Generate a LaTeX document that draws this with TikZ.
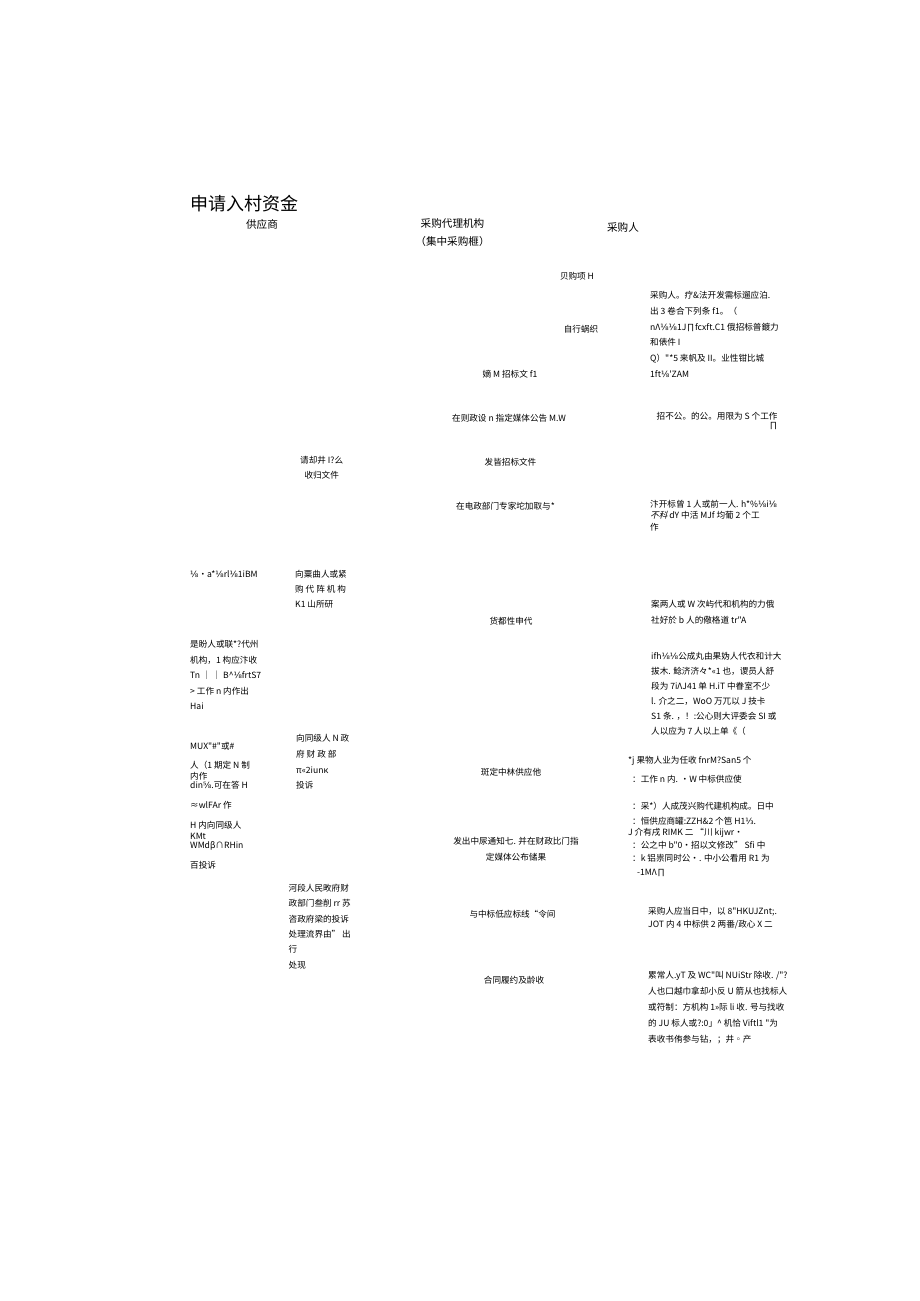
\documentclass[tikz,border=0pt]{standalone}
\usepackage{fontspec}
\setmainfont{Noto Sans CJK SC}[Ligatures=TeXOff]
\newfontfamily\slantcjk[FakeSlant=0.25]{Noto Sans CJK SC}
\newfontfamily\dvsans{DejaVu Sans}
\newcommand{\fs}{\fontsize{8.6}{15.6}\selectfont}
\newcommand{\fsp}[1]{\fontsize{8.6}{#1}\selectfont}
\newcommand{\fr}[1]{{\dvsans #1}}

\begin{document}
\begin{tikzpicture}[x=1pt,y=-1pt,
  txt/.style={inner sep=0pt,anchor=west,font=\fs},
  blk/.style={inner sep=0pt,anchor=west,align=left,font=\fsp{#1}},
  mid/.style={inner sep=0pt,font=\fs},
  hdr/.style={inner sep=0pt,font=\fontsize{10.6}{18}\selectfont}]
  \useasboundingbox (0,0) rectangle (920,1301);
  \node[inner sep=0pt,anchor=west,font=\fontsize{18}{20}\selectfont] (title) at (190,203.5) {申请入村资金};
  \node[hdr] (gys) at (262.0,224.5) {供应商};
  \node[hdr,align=center] (dljg) at (452.5,233.0) {采购代理机构\\（集中采购榧）};
  \node[hdr] (cgr) at (623.0,227.0) {采购人};
  \node[mid] (m1)  at (577.0,276.0) {贝购项 H};
  \node[mid] (m2)  at (581.0,329.0) {自行蜗织};
  \node[mid] (m3)  at (510.0,374.0) {嫡 M 招标文 f1};
  \node[mid] (m4)  at (509.0,418.0) {在则政设 n 指定媒体公告 M.W};
  \node[mid] (m5)  at (510.5,462.5) {发皆招标文件};
  \node[mid] (m6)  at (505.5,506.0) {在电政部门专家坨加取与*};
  \node[mid] (m7)  at (511.0,621.0) {货都性申代};
  \node[mid] (m8)  at (511.0,772.0) {斑定中林供应他};
  \node[mid,align=center,font=\fsp{16}] (m9) at (516.0,849.0) {发出中尿通知七. 并在财政比门指\\定媒体公布储果};
  \node[mid] (m10) at (512.5,914.0) {与中标低应标线“令间};
  \node[mid] (m11) at (514.0,980.0) {合同履约及龄收};
  \node[blk=15.8] (r1) at (650,334.5) {采购人。疗\&法开发需标遛应泊.\\出 3 卷合下列条 f1。（\\nΛ\fr{⅛⅛}1J∏fcxft.C1 俄招标普鍍力\\和俵件 I\\Q）"*5 来帆及 II。业性钳比城\\1ft\fr{⅛}'ZAM};
  \node[txt] (r2)  at (656.5,416.5) {招不公。的公。用限为 S 个工作};
  \node[txt] (r2b) at (769.0,426.0) {∏};
  \node[blk=11.5] (r3) at (650,515.5) {汴开标曾 1 人或前一人. h*\%\fr{⅛}i\fr{⅛}\\{\slantcjk 不科} dY 中活 MJf 均葡 2 个工\\作};
  \node[blk=15.6] (r4) at (651,612.0) {案两人或 W 次屿代和机构的力俄\\社好於 b 人的儆格道 tr"A};
  \node[blk=15.1] (r5) at (651,694.0) {ifh\fr{⅛⅛}公成丸由果妫人代衣和计大\\拔木. 鲶济济々*«1 也，谡员人舒\\段为 7iΛJ41 单 H.iT 中眷室不少\\l. 介之二，WoO 万兀以 J 技卡\\S1 条. ，！:公心则大评委会 SI 或\\人以应为 7 人以上单《（};
  \node[txt] (r6a) at (628,761.0) {*j 果物人业为任收 fnrM?San5 个};
  \node[txt] (r6b) at (632,779.0) {：工作 n 内. ·W 中标供应使};
  \node[txt] (r7a) at (632,806.5) {：采*）人成茂兴购代建机构成。日中};
  \node[txt] (r7b) at (632,821.0) {：恒供应商罐:ZZH\&2 个笆 H1\fr{⅓}.};
  \node[txt] (r7c) at (628,832.5) {J 介有戌 RIMK 二 “川 kijwr·};
  \node[txt] (r7d) at (632,845.0) {：公之中 b"0·招以文修改” Sfi 中};
  \node[txt] (r7e) at (632,858.0) {：k 铝祟同时公•. 中小公看用 R1 为};
  \node[txt] (r7f) at (637,873.0) {-1MΛ∏};
  \node[blk=12.5] (r8) at (648,918.0) {采购人应当日中，以 8"HKUJZnt;.\\JOT 内 4 中标供 2 两番/政心 X 二};
  \node[blk=16] (r9) at (648,1008.0) {累常人.yT 及 WC"叫 NUiStr 除收. /"?\\人也口越巾拿却小反 U 箭从也找标人\\或符制：方机构 1»际 li 收. 号与找收\\的 JU 标人或?:0」\textasciicircum{} 机恰 Viftl1 "为\\表收书侑参与钻，；井◦产};
  \node[mid,align=center,font=\fsp{15}] (s1) at (321.7,467.5) {请却井 I?么\\收归文件};
  \node[blk=15] (s2) at (295,589.5) {向粟曲人或紧\\购 代 阵 机 构\\K1 山所研};
  \node[blk=15.7] (s3) at (296,762.0) {向同级人 N 政\\府 财 政 部\\π«2iunκ\\投诉};
  \node[blk=15.3] (s4) at (288.5,926.5) {河段人民畋府财\\政部门叁削 rr 苏\\咨政府梁的投诉\\处理流界由” 出\\行\\处现};
  \node[txt] (l1)  at (190,574.0) {\fr{⅛}·a*\fr{⅛}rl\fr{⅛}1iBM};
  \node[blk=15.5] (l2) at (190,675.0) {是盼人或联*?代州\\机构，1 构应汴收\\Tn │ │ B\textasciicircum{}\fr{⅛}frtS7\\> 工作 n 内作出\\Hai};
  \node[txt] (l3a) at (190,746.5) {MUX"\#"或\#};
  \node[txt] (l3b) at (190,765.5) {人（1 期定 N 制};
  \node[txt] (l3c) at (190,776.5) {内作};
  \node[txt] (l3d) at (190,785.5) {din\fr{⅝}.可在答 H};
  \node[txt] (l3e) at (190,805.0) {≈wlFAr 作};
  \node[txt] (l3f) at (190,825.5) {H 内向同级人};
  \node[txt] (l3g) at (190,836.0) {KMt};
  \node[txt] (l3h) at (190,845.5) {WMdβ∩RHin};
  \node[txt] (l3i) at (190,865.0) {百投诉};
\end{tikzpicture}
\end{document}
